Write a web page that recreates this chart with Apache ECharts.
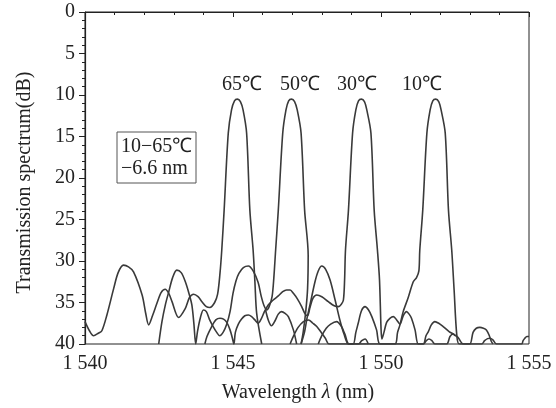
<!DOCTYPE html>
<html>
<head>
<meta charset="utf-8">
<script src="https://cdn.jsdelivr.net/npm/echarts@6/dist/echarts.min.js"></script>
<style>
  html, body { margin: 0; background: #fff; }
  #chart { width: 556px; height: 408px; }
</style>
</head>
<body>
<div id="chart"></div>
<script>
// Transmission spectra of the grating at four temperatures, [wavelength nm, dB].
// [x, null] marks a break between separate pieces of one trace.
var spec65 = [
  [1540.00,37.3],[1540.15,38.4],[1540.29,39.0],[1540.45,38.7],[1540.57,38.4],[1540.74,36.5],
  [1540.97,33.3],[1541.12,31.4],[1541.30,30.5],[1541.47,30.7],[1541.64,31.3],[1541.93,34.1],
  [1542.05,36.3],[1542.15,37.7],[1542.28,36.6],[1542.43,35.1],[1542.57,33.8],[1542.71,33.4],
  [1542.83,33.9],[1542.94,34.9],[1543.16,36.8],[1543.39,35.7],[1543.53,34.4],[1543.67,34.0],
  [1543.82,34.3],[1543.95,34.9],[1544.10,35.5],[1544.22,35.6],[1544.38,35.0],[1544.48,34.0],
  [1544.56,31.5],[1544.62,28.7],[1544.70,23.9],[1544.84,14.6],[1544.95,11.8],[1545.05,10.7],
  [1545.15,10.5],[1545.25,10.8],[1545.34,11.8],[1545.46,14.6],[1545.57,23.9],[1545.68,28.7],
  [1545.74,32.5],[1545.80,36.3],[1545.97,40],
  [1546.00,null],
  [1546.10,35.9],[1546.20,37.2],[1546.30,37.8],[1546.42,37.2],[1546.53,36.4],[1546.64,36.1],
  [1546.76,36.3],[1546.87,36.7],[1547.04,38.3],[1547.15,40],
  [1547.00,null],
  [1546.93,40],[1547.05,39.0],[1547.20,38.0],[1547.38,37.3],[1547.55,37.1],[1547.70,37.5],
  [1547.83,37.9],[1548.00,38.7],[1548.12,39.3],[1548.25,40],
  [1551.43,40],[1551.53,39.6],[1551.62,39.4],[1551.72,39.6],[1551.82,40],
  [1552.22,40],[1552.33,39.1],[1552.44,38.8],[1552.50,39.0]
];
var spec50 = [
  [1542.49,40],[1542.60,37.3],[1542.72,35.2],[1542.83,33.7],[1542.96,32.0],[1543.10,31.1],
  [1543.25,31.4],[1543.39,32.5],[1543.52,34.0],[1543.61,35.3],[1543.68,37.6],[1543.74,40],
  [1543.80,38.5],[1543.90,36.8],[1544.00,35.9],[1544.10,36.1],[1544.20,37.0],[1544.33,37.9],
  [1544.45,38.6],[1544.55,39.0],[1544.68,38.5],[1544.79,37.6],[1544.90,36.1],[1545.00,33.9],
  [1545.10,32.4],[1545.20,31.5],[1545.35,30.8],[1545.52,30.6],[1545.68,31.2],[1545.85,32.6],
  [1545.95,34.2],[1546.05,35.4],[1546.14,35.9],[1546.22,35.5],[1546.32,34.3],[1546.38,32.0],
  [1546.44,28.7],[1546.53,23.9],[1546.68,14.6],[1546.79,11.8],[1546.88,10.7],[1546.98,10.5],
  [1547.08,10.8],[1547.17,11.8],[1547.30,14.6],[1547.42,23.9],[1547.54,29.3],[1547.52,33.3],
  [1547.46,36.0],[1547.37,38.6],[1547.30,40],
  [1547.50,null],
  [1547.88,40],[1548.00,39.0],[1548.15,38.1],[1548.30,37.6],[1548.50,37.3],[1548.65,37.8],
  [1548.78,38.8],[1548.92,40],
  [1549.23,40],[1549.35,39.6],[1549.46,39.4],[1549.57,40]
];
var spec30 = [
  [1544.05,40],[1544.12,39.1],[1544.28,37.9],[1544.42,37.1],[1544.56,36.9],[1544.68,37.0],
  [1544.79,37.4],[1544.90,38.3],[1544.98,39.3],[1545.03,40],[1545.08,38.6],[1545.18,37.6],
  [1545.29,37.0],[1545.40,36.6],[1545.52,36.5],[1545.63,36.7],[1545.74,37.1],[1545.85,37.5],
  [1545.95,37.0],[1546.05,36.2],[1546.19,35.3],[1546.36,34.7],[1546.53,34.2],[1546.68,33.7],
  [1546.81,33.5],[1546.93,33.5],[1547.04,33.9],[1547.18,34.6],[1547.32,35.5],[1547.44,36.4],
  [1547.52,36.6],[1547.60,35.6],[1547.70,34.5],[1547.83,34.1],[1548.00,34.3],[1548.22,34.9],
  [1548.42,35.4],[1548.56,35.5],[1548.66,35.2],[1548.73,34.7],[1548.77,32.3],[1548.80,28.7],
  [1548.90,23.9],[1549.04,14.6],[1549.15,11.8],[1549.24,10.7],[1549.34,10.5],[1549.44,10.8],
  [1549.52,11.8],[1549.66,14.6],[1549.77,23.9],[1549.88,28.7],[1549.95,32.3],[1550.00,38.0],
  [1550.03,39.4],[1550.10,38.6],[1550.19,37.4],[1550.30,36.9],[1550.42,36.7],[1550.53,37.1],
  [1550.64,37.6],[1550.75,36.6],[1550.86,36.1],[1550.95,36.4],[1551.03,36.9],[1551.15,38.3],
  [1551.26,40],[1551.43,40],[1551.52,39.0],[1551.60,38.5],[1551.70,37.7],[1551.82,37.3],
  [1551.95,37.5],[1552.10,37.9],[1552.30,38.5],[1552.44,38.8],[1552.60,39.2],[1552.78,40],
  [1553.00,40],[1553.11,38.6],[1553.22,38.1],[1553.34,38.0],[1553.46,38.1],[1553.56,38.3],
  [1553.66,39.0],[1553.73,39.7],[1553.78,40]
];
var spec10 = [
  [1547.30,40],[1547.42,38.5],[1547.50,36.9],[1547.60,35.3],[1547.77,32.5],[1547.88,31.2],
  [1548.00,30.6],[1548.13,31.0],[1548.28,32.3],[1548.45,34.7],[1548.61,37.1],[1548.75,38.8],
  [1548.90,40],[1549.06,40],[1549.15,38.6],[1549.23,37.5],[1549.34,36.0],[1549.46,35.5],
  [1549.58,35.9],[1549.69,36.7],[1549.85,38.3],[1549.97,40],[1550.47,40],[1550.56,38.6],
  [1550.64,37.7],[1550.75,36.1],[1550.92,34.4],[1551.09,32.5],[1551.20,32.0],[1551.28,31.2],
  [1551.31,28.7],[1551.41,23.9],[1551.55,14.6],[1551.66,11.8],[1551.75,10.7],[1551.85,10.5],
  [1551.95,10.8],[1552.03,11.8],[1552.17,14.6],[1552.28,23.9],[1552.39,28.7],[1552.47,33.5],
  [1552.56,38.9],[1552.65,40],[1553.40,40],[1553.50,39.6],[1553.60,39.35],[1553.68,39.3],
  [1553.78,39.5],[1553.90,40],[1554.75,40],[1554.80,39.6],[1554.86,39.3],[1554.93,39.1],
  [1555.00,39.1]
];

var seriesNames = ["65℃", "50℃", "30℃", "10℃"];
var seriesData = [spec65, spec50, spec30, spec10];
var noteLines = ["10−65℃", "−6.6 nm"];

var FONT = '"Liberation Serif","Times New Roman",serif';
var INK = "#222";
var LINE = "#3a3a3a";

function thousands(v) {
  var s = String(v);
  return s.length === 4 ? s.charAt(0) + " " + s.slice(1) : s;
}

var chart = echarts.init(document.getElementById("chart"));
chart.setOption({
  animation: false,
  backgroundColor: "#fff",
  grid: {
    left: 85, right: 27, top: 12, bottom: 64,
    show: true, borderColor: INK, borderWidth: 1,
    outerBoundsMode: "none"
  },
  xAxis: {
    type: "value", min: 1540, max: 1555, interval: 5,
    axisLine: { show: true, lineStyle: { color: INK, width: 1.2 } },
    axisTick: { show: true, length: 5, lineStyle: { color: INK } },
    minorTick: { show: true, splitNumber: 5, length: 3, lineStyle: { color: INK } },
    splitLine: { show: false },
    axisLabel: { color: INK, fontFamily: FONT, fontSize: 20, margin: 10, formatter: thousands },
    name: "Wavelength {i|λ} (nm)",
    nameLocation: "middle", nameGap: 39,
    nameTextStyle: {
      color: INK, fontFamily: FONT, fontSize: 20, padding: [0, 18, 0, 0],
      rich: { i: { color: INK, fontFamily: FONT, fontSize: 20, fontStyle: "italic" } }
    }
  },
  yAxis: {
    type: "value", inverse: true, min: 0, max: 40, interval: 5,
    axisLine: { show: true, lineStyle: { color: INK, width: 1.2 } },
    axisTick: { show: true, length: 6, lineStyle: { color: INK } },
    minorTick: { show: true, splitNumber: 5, length: 3, lineStyle: { color: INK } },
    splitLine: { show: false },
    axisLabel: { color: INK, fontFamily: FONT, fontSize: 20, margin: 10 },
    name: "Transmission spectrum(dB)",
    nameLocation: "middle", nameGap: 50,
    nameTextStyle: { color: INK, fontFamily: FONT, fontSize: 20, padding: [0, 9, 0, 0] }
  },
  series: seriesData.map(function (d, i) {
    return {
      name: seriesNames[i], type: "line", data: d,
      showSymbol: false, smooth: 0.3, connectNulls: false, clip: true,
      lineStyle: { color: LINE, width: 1.6 },
      silent: true
    };
  }),
  graphic: [
    { type: "text", x: 242, y: 85, style: { text: seriesNames[0], font: "20px " + FONT, fill: INK, align: "center", verticalAlign: "middle" } },
    { type: "text", x: 300, y: 85, style: { text: seriesNames[1], font: "20px " + FONT, fill: INK, align: "center", verticalAlign: "middle" } },
    { type: "text", x: 357, y: 85, style: { text: seriesNames[2], font: "20px " + FONT, fill: INK, align: "center", verticalAlign: "middle" } },
    { type: "text", x: 422, y: 85, style: { text: seriesNames[3], font: "20px " + FONT, fill: INK, align: "center", verticalAlign: "middle" } },
    { type: "rect", shape: { x: 117, y: 132, width: 79, height: 51 }, style: { fill: "#fff", stroke: "#555", lineWidth: 1 } },
    { type: "text", x: 121, y: 147, style: { text: noteLines[0], font: "20px " + FONT, fill: INK, verticalAlign: "middle" } },
    { type: "text", x: 121, y: 169, style: { text: noteLines[1], font: "20px " + FONT, fill: INK, verticalAlign: "middle" } }
  ]
});
</script>
</body>
</html>
